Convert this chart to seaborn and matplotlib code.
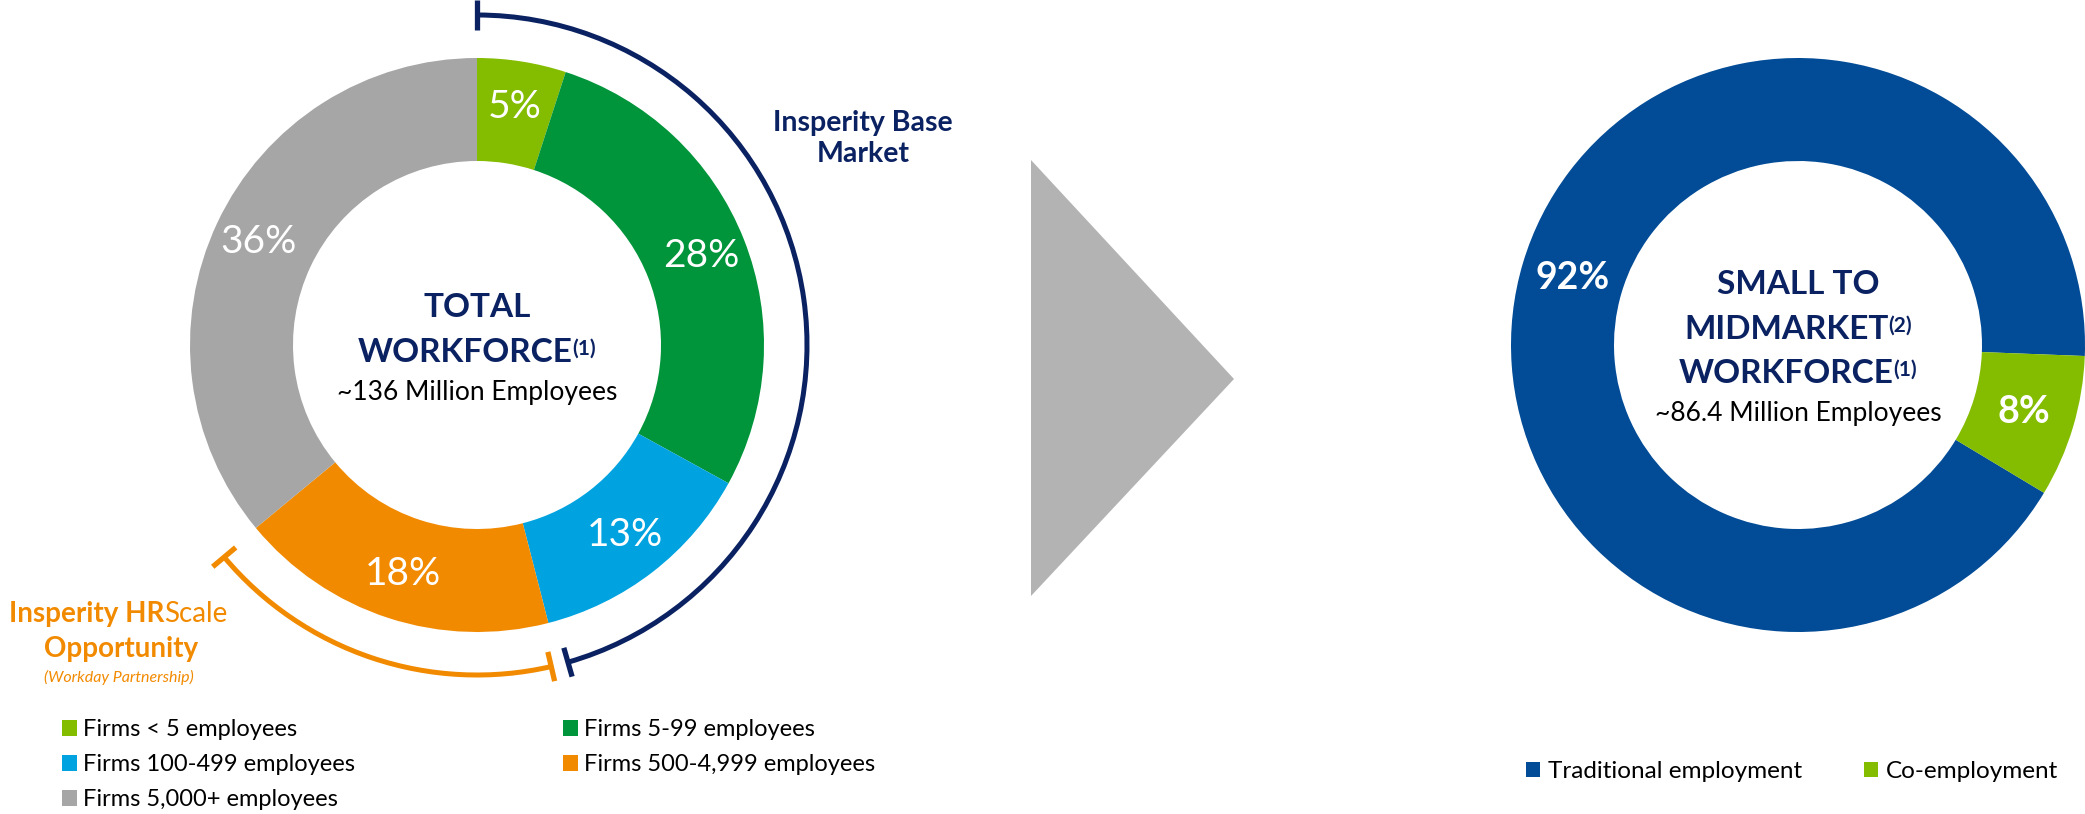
import matplotlib
matplotlib.use("Agg")
import matplotlib.pyplot as plt
from matplotlib.patches import Arc, Patch, Polygon
from matplotlib.legend import Legend
import numpy as np
import seaborn as sns

# ---------------- data ----------------
segments = ["Firms < 5 employees", "Firms 5-99 employees", "Firms 100-499 employees",
            "Firms 500-4,999 employees", "Firms 5,000+ employees"]
shares = [5, 28, 13, 18, 36]
seg_colors = ["#84BC00", "#00953A", "#00A3E0", "#F28A00", "#A6A6A6"]

smb_labels = ["Traditional employment", "Co-employment"]
smb_shares = [92, 8]
smb_colors = ["#024B96", "#84BC00"]

total_title = ["TOTAL", "WORKFORCE"]
total_note = "(1)"
total_sub = "~136 Million Employees"
smb_title = ["SMALL TO", "MIDMARKET", "WORKFORCE"]
smb_notes = ["", "(2)", "(1)"]
smb_sub = "~86.4 Million Employees"

base_label = "Insperity Base\nMarket"
hr_label_bold = "Insperity HR"
hr_label_light = "Scale"
hr_label2 = "Opportunity"
hr_label3 = "(Workday Partnership)"

left_legend_cols = [[0, 2, 4], [1, 3]]

NAVY = "#0B2262"
ORANGE = "#F28A00"

# ---------------- style ----------------
sns.set_theme(style="white")
plt.rcParams['font.family'] = ['Lato', 'DejaVu Sans']

W, H = 2085, 814
fig = plt.figure(figsize=(W / 100, H / 100), dpi=100)
ax = fig.add_axes([0, 0, 1, 1])


def Y(y):
    return H - y


L_C = (477, Y(345))
R_C = (1798, Y(345))
R_OUT, R_IN = 287, 184

ax.pie(shares, colors=seg_colors, startangle=90, counterclock=False,
       radius=R_OUT, center=L_C,
       wedgeprops=dict(width=R_OUT - R_IN, linewidth=0),
       autopct=lambda p: f"{p:.0f}%", pctdistance=0.84,
       textprops=dict(color="white", fontsize=28))

ax.pie(smb_shares, colors=smb_colors, startangle=-31, counterclock=False,
       radius=R_OUT, center=R_C,
       wedgeprops=dict(width=R_OUT - R_IN, linewidth=0),
       autopct=lambda p: f"{p:.0f}%", pctdistance=0.82,
       textprops=dict(color="white", fontsize=27, fontweight="bold"))

ax.set_xlim(0, W)
ax.set_ylim(0, H)
ax.set_aspect("equal")
ax.axis("off")

# ---------------- bracket arcs ----------------
R_ARC = 330
CAP = 15


def bracket(center, t1, t2, color):
    ax.add_patch(Arc(center, 2 * R_ARC, 2 * R_ARC, theta1=t1, theta2=t2,
                     color=color, lw=3.6, capstyle="butt"))
    for a in (t1, t2):
        r = np.radians(a)
        xs = [center[0] + (R_ARC - CAP) * np.cos(r), center[0] + (R_ARC + CAP) * np.cos(r)]
        ys = [center[1] + (R_ARC - CAP) * np.sin(r), center[1] + (R_ARC + CAP) * np.sin(r)]
        ax.plot(xs, ys, color=color, lw=3.8, solid_capstyle="butt")


bracket(L_C, -74, 90, NAVY)
bracket(L_C, -140, -77, ORANGE)

# ---------------- arrow triangle ----------------
ax.add_patch(Polygon([(1031, Y(160)), (1031, Y(596)), (1234, Y(379))],
                     closed=True, facecolor="#B3B3B3", edgecolor="none"))

# ---------------- text helpers ----------------
renderer = fig.canvas.get_renderer()


def runs(x, y, pieces):
    """pieces: list of (string, kwargs, dy). Centered horizontally on x, baseline y."""
    ts, ws = [], []
    for s, kw, dy in pieces:
        t = ax.text(0, y + dy, s, ha="left", va="baseline", **kw)
        ts.append(t)
        ws.append(t.get_window_extent(renderer).width)
    cur = x - sum(ws) / 2
    for t, w in zip(ts, ws):
        t.set_x(cur)
        cur += w


title_kw = dict(fontsize=24, fontweight="bold", color=NAVY)
note_kw = dict(fontsize=15, fontweight="bold", color=NAVY)
sub_kw = dict(fontsize=19, color="black")

# left centre
runs(L_C[0], Y(317), [(total_title[0], title_kw, 0)])
runs(L_C[0], Y(362), [(total_title[1], title_kw, 0), (total_note, note_kw, 7)])
runs(L_C[0], Y(400), [(total_sub, sub_kw, 0)])

# right centre
for line, note, yb in zip(smb_title, smb_notes, [294, 339, 383]):
    pcs = [(line, title_kw, 0)]
    if note:
        pcs.append((note, note_kw, 7))
    runs(R_C[0], Y(yb), pcs)
runs(R_C[0], Y(421), [(smb_sub, sub_kw, 0)])

# bracket labels
ax.text(863, Y(162), base_label, ha="center", va="baseline", fontsize=20.5,
        fontweight="bold", color=NAVY, linespacing=1.25, multialignment="center")
hr_kw = dict(fontsize=20, color=ORANGE)
runs(118, Y(622), [(hr_label_bold, dict(hr_kw, fontweight="bold"), 0),
                   (hr_label_light, hr_kw, 0)])
runs(121, Y(657), [(hr_label2, dict(hr_kw, fontweight="bold"), 0)])
runs(119, Y(682), [(hr_label3, dict(fontsize=11.5, style="italic", color=ORANGE), 0)])


# ---------------- legends ----------------
def add_legend(idx, labels, colors, x, ytop, fs, hl, pad, ls=0.6):
    handles = [Patch(facecolor=colors[i], edgecolor="none") for i in idx]
    lg = Legend(ax, handles, [labels[i] for i in idx], frameon=False, fontsize=fs,
                handlelength=hl, handleheight=hl, handletextpad=pad,
                borderpad=0, borderaxespad=0, labelspacing=ls,
                loc="upper left", bbox_to_anchor=(x, Y(ytop)),
                bbox_transform=ax.transData, labelcolor="black")
    ax.add_artist(lg)


add_legend(left_legend_cols[0], segments, seg_colors, 62, 719, 17, 0.64, 0.25)
add_legend(left_legend_cols[1], segments, seg_colors, 563, 719, 17, 0.64, 0.25)
add_legend([0], smb_labels, smb_colors, 1526, 761, 17.5, 0.58, 0.33)
add_legend([1], smb_labels, smb_colors, 1864, 761, 17.5, 0.58, 0.33)

fig.savefig("out.png", dpi=100, facecolor="white")
